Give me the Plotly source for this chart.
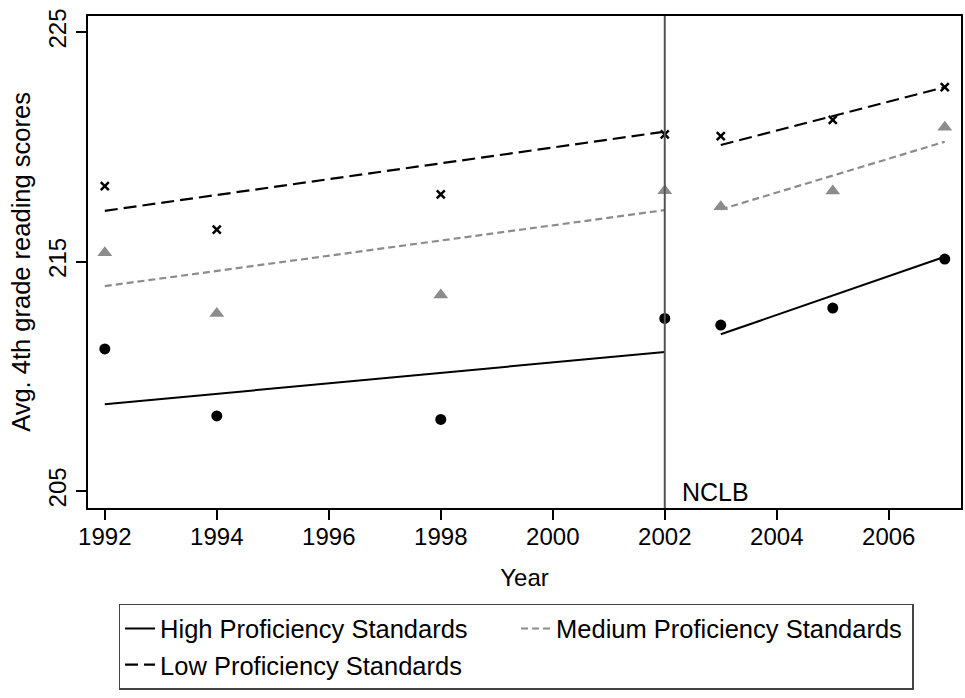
import plotly.graph_objects as go

years = [1992, 1994, 1998, 2002, 2003, 2005, 2007]
high_scores = [211.19, 208.27, 208.12, 212.52, 212.23, 212.97, 215.11]
medium_scores = [215.38, 212.74, 213.54, 218.09, 217.39, 218.07, 220.85]
low_scores = [218.29, 216.39, 217.93, 220.54, 220.47, 221.17, 222.60]

# fitted trend lines: pre-NCLB segment, gap, post-NCLB segment
fit_years = [1992, 2002, None, 2003, 2007]
high_fit = [208.78, 211.06, None, 211.83, 215.21]
medium_fit = [213.93, 217.24, None, 217.27, 220.22]
low_fit = [217.21, 220.66, None, 220.08, 222.60]

nclb_year = 2002
x_ticks = [1992, 1994, 1996, 1998, 2000, 2002, 2004, 2006]
y_ticks = [205, 215, 225]

FONT = "Liberation Sans, Arial, sans-serif"
GRAY = "#8c8c8c"

fig = go.Figure()

fig.add_trace(go.Scatter(x=fit_years, y=high_fit, mode="lines",
                         line=dict(color="black", width=2),
                         name="High Proficiency Standards", connectgaps=False))
fig.add_trace(go.Scatter(x=fit_years, y=medium_fit, mode="lines",
                         line=dict(color=GRAY, width=2.2, dash="7px,4px"),
                         name="Medium Proficiency Standards", connectgaps=False))
fig.add_trace(go.Scatter(x=fit_years, y=low_fit, mode="lines",
                         line=dict(color="black", width=2.2, dash="13px,6px"),
                         name="Low Proficiency Standards", connectgaps=False))

fig.add_trace(go.Scatter(x=years, y=high_scores, mode="markers",
                         marker=dict(symbol="circle", size=11, color="black"),
                         showlegend=False))
fig.add_trace(go.Scatter(x=years, y=medium_scores, mode="markers",
                         marker=dict(symbol="triangle-up", size=13, color=GRAY),
                         showlegend=False))
fig.add_trace(go.Scatter(x=years, y=low_scores, mode="markers",
                         marker=dict(symbol="x-thin-open", size=8, color="black",
                                     line=dict(color="black", width=2.5)),
                         showlegend=False))

fig.add_shape(type="line", x0=nclb_year, x1=nclb_year, y0=0, y1=1,
              xref="x", yref="paper", line=dict(color="#555555", width=2))
fig.add_annotation(x=nclb_year, y=0, xref="x", yref="paper", text="NCLB",
                   showarrow=False, xanchor="left", yanchor="bottom",
                   xshift=15, yshift=0, font=dict(size=25, color="black", family=FONT))

fig.update_layout(
    width=965, height=698,
    margin=dict(l=88, r=4, t=16, b=190, autoexpand=False),
    paper_bgcolor="white", plot_bgcolor="white",
    font=dict(family=FONT, size=24, color="black"),
    legend=dict(orientation="h", x=0.035, y=-0.195, xanchor="left", yanchor="top",
                entrywidth=351, entrywidthmode="pixels",
                bordercolor="#444444", borderwidth=1.5,
                font=dict(size=25.5, family=FONT)),
)
fig.update_xaxes(range=[1991.70, 2007.29], tickvals=x_ticks, ticks="outside",
                 ticklen=10, tickwidth=1.5, tickcolor="black", ticklabelstandoff=-4,
                 showline=True, linecolor="black", linewidth=2, mirror=True,
                 showgrid=False, zeroline=False, automargin=False,
                 title=dict(text="Year", font=dict(size=24), standoff=20))
fig.update_yaxes(range=[204.26, 225.70], tickvals=y_ticks, ticks="outside",
                 ticklen=10, tickwidth=1.5, tickcolor="black", tickangle=-90,
                 showline=True, linecolor="black", linewidth=2, mirror=True,
                 showgrid=False, zeroline=False, automargin=False,
                 title=dict(text="Avg. 4th grade reading scores", font=dict(size=25.5),
                            standoff=6))

fig.write_html("out.html")
